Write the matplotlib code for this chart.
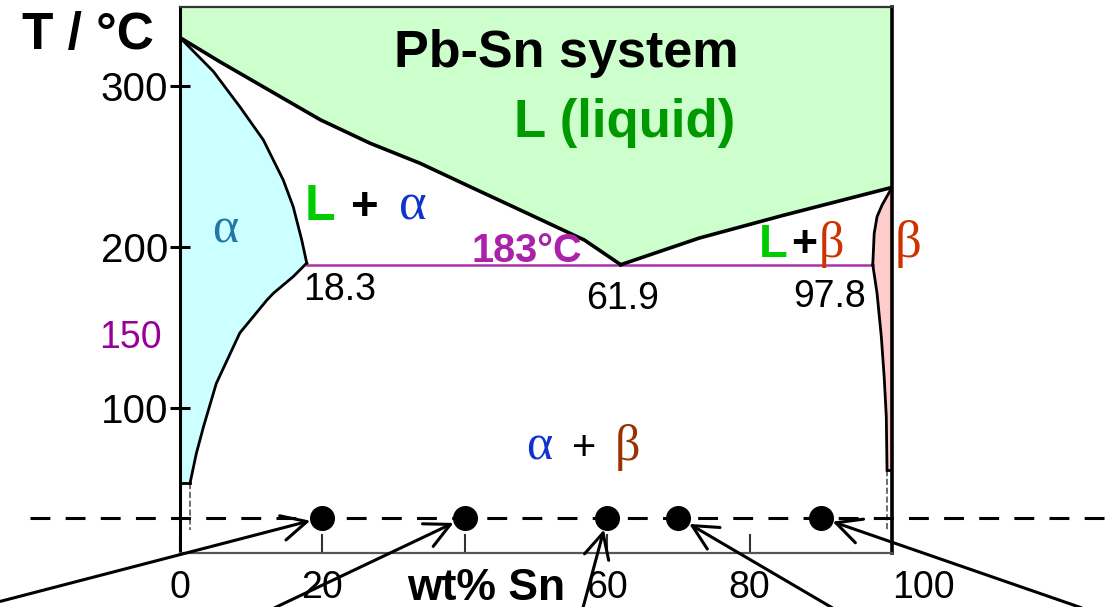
import matplotlib.pyplot as plt

plt.rcParams['font.family'] = ['Liberation Sans', 'DejaVu Sans']

# Phase boundaries (wt% Sn, T / degC)
liq_left_x = [0, 5.6, 19.7, 26.7, 33.7, 40.7, 48, 56.8, 61.9]
liq_left_T = [330, 315, 279, 264.4, 252, 237.5, 222.5, 204.3, 189]
liq_right_x = [61.9, 72.9, 84.6, 100]
liq_right_T = [189, 205.5, 219.5, 237]

sol_a_x = [0, 4.7, 8.4, 11.7, 14.5, 15.9, 17.1, 17.8]
sol_a_T = [330, 308.9, 287.1, 266.5, 241.6, 225, 204.3, 190]
solv_a_x = [17.8, 15.9, 13.1, 12.2, 8.4, 5.1, 3.3, 2.3, 1.4]
solv_a_T = [190, 181.6, 171.2, 167, 146.6, 115.3, 88.4, 71.9, 53.2]

sol_b_x = [100, 98.6, 97.9, 97.5, 97.3]
sol_b_T = [237, 226, 218.8, 208.5, 189]
solv_b_x = [97.3, 97.9, 98.5, 98.9, 99.2, 99.3]
solv_b_T = [189, 171.2, 144.3, 119.4, 94.6, 61.5]

eut_x = [17.8, 97.3]
eut_T = 189

# sample compositions on the dashed isotherm
dot_x = [20, 40, 60, 70, 90]
dot_T = 32
# arrow tails below the axis
tail_x = [-25.2, 13.3, 56.6, 91.6, 126.6]
tail_T = [-20, -24, -24, -24, -24]

yticks = [100, 200, 300]
xticks = [0, 20, 40, 60, 80, 100]
xticklabels = ['0', '20', '', '60', '80', '100']

fig = plt.figure(figsize=(11.19, 6.07), dpi=100)
ax = fig.add_axes([180 / 1119, 54 / 607, 712 / 1119, 546 / 607])
ax.set_xlim(0, 100)
ax.set_ylim(10, 349)

# region fills
ax.fill(liq_left_x + liq_right_x[1:] + [100, 0],
        liq_left_T + liq_right_T[1:] + [349, 349], color='#ccffcc', lw=0, zorder=1)
ax.fill(sol_a_x + solv_a_x[1:] + [0], sol_a_T + solv_a_T[1:] + [53.2],
        color='#ccffff', lw=0, zorder=1)
ax.fill(sol_b_x + solv_b_x[1:] + [100], sol_b_T + solv_b_T[1:] + [61.5],
        color='#ffcccc', lw=0, zorder=1)

# boundaries
for xs, ts in [(liq_left_x, liq_left_T), (liq_right_x, liq_right_T)]:
    ax.plot(xs, ts, color='black', lw=2.6, zorder=3)
for xs, ts in [(sol_a_x, sol_a_T), (solv_a_x, solv_a_T),
               (sol_b_x, sol_b_T), (solv_b_x, solv_b_T)]:
    ax.plot(xs, ts, color='black', lw=2.0, zorder=3)
ax.plot([0, solv_a_x[-1]], [solv_a_T[-1]] * 2, color='black', lw=2, zorder=3)
ax.plot([solv_b_x[-1], 100], [solv_b_T[-1]] * 2, color='black', lw=2, zorder=3)
ax.plot([solv_a_x[-1]] * 2, [solv_a_T[-1], 24], color='#555555', lw=1.2, ls='--', zorder=2)
ax.plot([solv_b_x[-1]] * 2, [solv_b_T[-1], 24], color='#555555', lw=1.2, ls='--', zorder=2)
ax.plot(eut_x, [eut_T] * 2, color='#aa33aa', lw=1.8, zorder=2)

# isotherm and sample points
ax.plot([-21, 133], [dot_T] * 2, color='black', lw=2.2, dashes=(6.5, 5),
        clip_on=False, zorder=4)
ax.plot(dot_x, [dot_T] * len(dot_x), 'o', color='black', ms=17, clip_on=False, zorder=5)
for x0, t0, x1 in zip(tail_x, tail_T, dot_x):
    ax.annotate('', xy=(x1, dot_T), xytext=(x0, t0), annotation_clip=False,
                arrowprops=dict(arrowstyle='->,head_length=0.9,head_width=0.45',
                                mutation_scale=20, lw=2.2, color='black',
                                shrinkA=0, shrinkB=9), zorder=6)

# axes styling
ax.set_yticks(yticks)
ax.set_yticklabels([str(t) for t in yticks], fontsize=29)
ax.tick_params(axis='y', direction='inout', length=15, width=2.2, pad=1)
ax.set_xticks(xticks)
ax.set_xticklabels(xticklabels, fontsize=27)
ax.tick_params(axis='x', direction='in', length=14, width=1.5, color='#333333', pad=12)
ax.get_xticklabels()[-1].set_horizontalalignment('left')
ax.spines['left'].set_linewidth(2.2)
ax.spines['right'].set_linewidth(2.6)
ax.spines['top'].set_linewidth(1.6)
ax.spines['top'].set_color('#333333')
ax.spines['bottom'].set_linewidth(1.6)
ax.spines['bottom'].set_color('#555555')
for s in ax.spines.values():
    s.set_zorder(4)

# labels
serif = ['Liberation Serif', 'DejaVu Serif']
ax.text(-13, 331, 'T / °C', fontsize=37, fontweight='bold', ha='center', va='center')
ax.text(43, -12, 'wt% Sn', fontsize=32, fontweight='bold', ha='center', va='center')
ax.text(54.3, 312, 'Pb-Sn system', fontsize=37.5, fontweight='bold', ha='center', va='baseline')
ax.text(62.4, 268.3, 'L (liquid)', fontsize=38, fontweight='bold', color='#009900',
        ha='center', va='baseline')
ax.text(17.5, 217, 'L', fontsize=36, fontweight='bold', color='#00cc00', va='baseline')
ax.text(25.9, 217, '+', fontsize=34, fontweight='bold', ha='center', va='baseline')
ax.text(32.7, 217, 'α', fontsize=38, family=serif, color='#1133cc', ha='center', va='baseline')
ax.text(6.3, 203, 'α', fontsize=36, family=serif, color='#2277aa', ha='center', va='baseline')
ax.text(48.7, 190.5, '183°C', fontsize=28.5, fontweight='bold', color='#aa22aa',
        ha='center', va='baseline')
ax.text(22.4, 167, '18.3', fontsize=27, ha='center', va='baseline')
ax.text(62.1, 161.5, '61.9', fontsize=27, ha='center', va='baseline')
ax.text(91.2, 162.7, '97.8', fontsize=27, ha='center', va='baseline')
ax.text(83.3, 194, 'L', fontsize=34, fontweight='bold', color='#00cc00',
        ha='center', va='baseline')
ax.text(87.6, 194, '+', fontsize=32, fontweight='bold', ha='center', va='baseline')
ax.text(91.5, 194, 'β', fontsize=36, family=serif, color='#cc3300', ha='center', va='baseline')
ax.text(102.3, 194, 'β', fontsize=38, family=serif, color='#cc3300', ha='center', va='baseline')
ax.text(-7, 137, '150', fontsize=27, color='#990099', ha='center', va='baseline')
ax.text(50.5, 68, 'α', fontsize=36, family=serif, color='#1133cc', ha='center', va='baseline')
ax.text(56.8, 68, '+', fontsize=30, ha='center', va='baseline')
ax.text(62.8, 68, 'β', fontsize=36, family=serif, color='#993300', ha='center', va='baseline')

fig.savefig('out.png', dpi=100)
